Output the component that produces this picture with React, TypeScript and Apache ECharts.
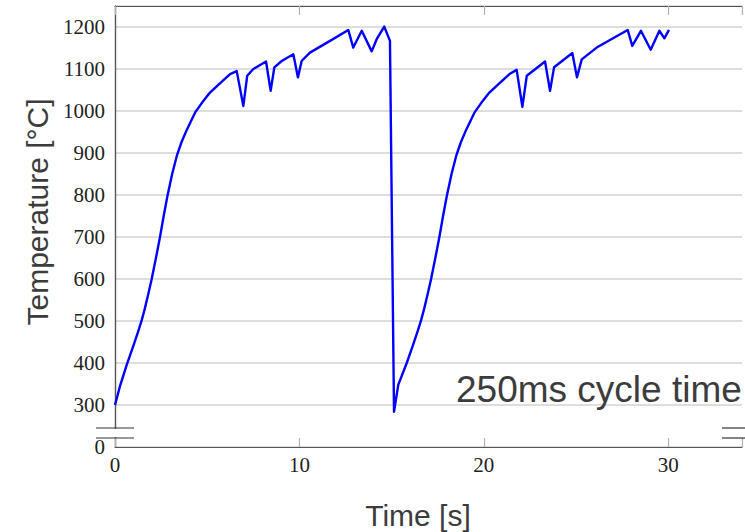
import React, { useEffect, useRef } from "react";
import * as echarts from "echarts";

// Time [s] and temperature [°C]
const timeS: number[] = [
  0, 0.27, 0.63, 0.99, 1.25, 1.45, 1.62, 1.8, 1.99, 2.22, 2.44, 2.64, 2.84, 3.1, 3.35, 3.6,
  3.89, 4.34, 4.79, 5.15, 5.69, 6.24, 6.6, 6.96, 7.17, 7.5, 8.19, 8.44, 8.64, 9.04, 9.67,
  9.92, 10.12, 10.57, 11.66, 12.65, 12.92, 13.38, 13.92, 14.19, 14.6, 14.91,
  15.13, 15.36, 15.82, 16.14, 16.4, 16.6, 16.77, 16.95, 17.14, 17.37, 17.59, 17.79, 17.99,
  18.25, 18.5, 18.75, 19.04, 19.49, 19.94, 20.3, 20.84, 21.39, 21.78, 22.09, 22.33,
  23.32, 23.59, 23.81, 24.8, 25.05, 25.31, 26.12, 27.8, 28.05, 28.52, 29.05, 29.52, 29.79,
  30.04,
];
const tempC: number[] = [
  300, 345, 395, 440, 474, 502, 530, 563, 600, 650, 700, 750, 797, 850, 893, 925,
  955, 996, 1024, 1044, 1066, 1088, 1095, 1012, 1084, 1100, 1118, 1048, 1104, 1119, 1135,
  1080, 1119, 1139, 1167, 1193, 1151, 1191, 1142, 1171, 1201, 1167,
  284, 348, 400, 440, 474, 502, 530, 563, 600, 650, 700, 750, 797,
  850, 893, 925, 955, 996, 1024, 1044, 1066, 1088, 1098, 1010, 1084,
  1118, 1048, 1104, 1138, 1080, 1123, 1151, 1193, 1155, 1191, 1146, 1191, 1173,
  1193,
];

const xTicks: number[] = [0, 10, 20, 30];
const yTicks: number[] = [300, 400, 500, 600, 700, 800, 900, 1000, 1100, 1200];
const yBreakValue = 200; // axis bottom, labelled "0" after the axis break
const yBreakLabel = "0";
const xRange: [number, number] = [0, 34];
const yRange: [number, number] = [200, 1250];

const annotation = "250ms cycle time";
const xName = "Time [s]";
const yName = "Temperature [°C]";

export default function App() {
  const ref = useRef<HTMLDivElement>(null);
  useEffect(() => {
    if (!ref.current) return;
    const chart = echarts.init(ref.current, undefined, { renderer: "svg" });
    const serif = "Liberation Serif";
    const axisColor = "#555555";
    chart.setOption({
      animation: false,
      grid: { left: 115, right: 3, top: 6, bottom: 85, containLabel: false },
      xAxis: [
        {
          type: "value",
          min: xRange[0],
          max: xRange[1],
          interval: 10,
          axisLine: { show: true, lineStyle: { color: axisColor, width: 1.2 } },
          axisTick: { show: true, inside: true, length: 9, lineStyle: { color: "#b0b0b0", width: 1.2 } },
          axisLabel: {
            fontFamily: serif,
            fontSize: 21,
            color: "#222",
            margin: 7,
            formatter: (v: number) => (xTicks.includes(v) ? String(v) : ""),
          },
          splitLine: { show: false },
        },
        {
          type: "value",
          position: "top",
          min: xRange[0],
          max: xRange[1],
          interval: 10,
          axisLine: { show: true, lineStyle: { color: axisColor, width: 1.2 } },
          axisTick: { show: true, inside: true, length: 9, lineStyle: { color: "#b0b0b0", width: 1.2 } },
          axisLabel: { show: false },
          splitLine: { show: false },
        },
      ],
      yAxis: [
        {
          type: "value",
          min: yRange[0],
          max: yRange[1],
          interval: 100,
          axisLine: { show: true, lineStyle: { color: axisColor, width: 1.2 } },
          axisTick: { show: false },
          axisLabel: {
            fontFamily: serif,
            fontSize: 21,
            color: "#222",
            margin: 10,
            formatter: (v: number) =>
              v === yBreakValue ? yBreakLabel : yTicks.includes(v) ? String(v) : "",
          },
          splitLine: { show: true, lineStyle: { color: "#d2d2d2", width: 1.5 } },
        },
        {
          type: "value",
          position: "right",
          min: yRange[0],
          max: yRange[1],
          interval: 100,
          axisLine: { show: true, lineStyle: { color: axisColor, width: 1.2 } },
          axisTick: { show: false },
          axisLabel: { show: false },
          splitLine: { show: false },
        },
      ],
      series: [
        {
          type: "line",
          xAxisIndex: 0,
          yAxisIndex: 0,
          data: timeS.map((t, i) => [t, tempC[i]]),
          showSymbol: false,
          symbol: "none",
          lineStyle: { color: "#0000ff", width: 2.4, join: "round" },
          z: 3,
        },
      ],
      graphic: [
        {
          type: "text",
          x: 456,
          y: 389,
          z: 1,
          style: {
            text: annotation,
            fontFamily: "Liberation Sans",
            fontSize: 37,
            fill: "#3c3c3c",
            textAlign: "left",
            textVerticalAlign: "middle",
          },
        },
        {
          type: "text",
          x: 418,
          y: 515,
          style: {
            text: xName,
            fontFamily: "Liberation Sans",
            fontSize: 30,
            fill: "#3c3c3c",
            textAlign: "center",
            textVerticalAlign: "middle",
          },
        },
        {
          type: "text",
          x: 37,
          y: 212,
          rotation: Math.PI / 2,
          style: {
            text: yName,
            fontFamily: "Liberation Sans",
            fontSize: 30,
            fill: "#3c3c3c",
            textAlign: "center",
            textVerticalAlign: "middle",
          },
        },
        // axis break marks (left)
        { type: "rect", z: 50, shape: { x: 111, y: 429, width: 8, height: 8 }, style: { fill: "#fff" } },
        { type: "line", z: 51, shape: { x1: 96, y1: 428, x2: 134, y2: 428 }, style: { stroke: "#333", lineWidth: 1.2 } },
        { type: "line", z: 51, shape: { x1: 96, y1: 438, x2: 134, y2: 438 }, style: { stroke: "#333", lineWidth: 1.2 } },
        // axis break marks (right)
        { type: "rect", z: 50, shape: { x: 738, y: 429, width: 7, height: 8 }, style: { fill: "#fff" } },
        { type: "line", z: 51, shape: { x1: 722, y1: 428, x2: 745, y2: 428 }, style: { stroke: "#333", lineWidth: 1.2 } },
        { type: "line", z: 51, shape: { x1: 722, y1: 438, x2: 745, y2: 438 }, style: { stroke: "#333", lineWidth: 1.2 } },
      ],
    });
    return () => chart.dispose();
  }, []);
  return (
    <div
      ref={ref}
      style={{ position: "fixed", left: 0, top: 0, width: 745, height: 532, background: "#fff" }}
    />
  );
}
